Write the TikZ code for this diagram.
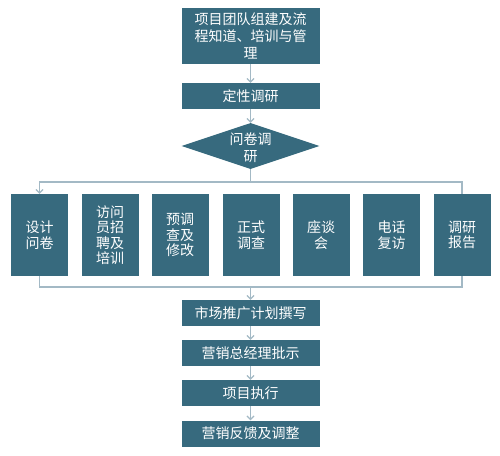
\documentclass[tikz,border=0pt]{standalone}
\usepackage{fontspec}
\setmainfont{Noto Sans CJK SC}
\usetikzlibrary{arrows.meta,shapes.geometric}
\definecolor{boxc}{HTML}{376A7E}
\definecolor{linec}{HTML}{A3B9C5}
\begin{document}
\begin{tikzpicture}[x=1pt,y=-1pt,
  box/.style={draw=none,fill=boxc,text=white,inner sep=0pt,align=center,
    font=\fontsize{14}{17}\selectfont},
  wide/.style={box,minimum width=138pt,minimum height=26pt},
  tall/.style={box,minimum width=57pt,minimum height=82pt,font=\fontsize{14}{15.5}\selectfont},
  conn/.style={draw=linec,line width=1.2pt},
  arr/.style={conn,-{Straight Barb[length=3.5pt,width=7pt]}}]
\useasboundingbox (0,0) rectangle (500,455);
\node[wide,minimum height=56pt] (top) at (250.5,36) {项目团队组建及流\\程知道、培训与管\\理};
\node[wide] (qual) at (250.5,96) {定性调研};
\node[diamond,fill=boxc,minimum width=138pt,minimum height=46pt,inner sep=0pt] (dia) at (250.5,146) {};
\node[text=white,align=center,font=\fontsize{14}{17}\selectfont] (diat) at (250.5,147.5) {问卷调\\研};
\node[tall] (r1) at (39.5,235) {设计\\问卷};
\node[tall] (r2) at (110,235) {访问\\员招\\聘及\\培训};
\node[tall] (r3) at (180,235) {预调\\查及\\修改};
\node[tall] (r4) at (251,235) {正式\\调查};
\node[tall] (r5) at (321,235) {座谈\\会};
\node[tall] (r6) at (391.5,235) {电话\\复访};
\node[tall] (r7) at (462,235) {调研\\报告};
\node[wide] (m1) at (250.5,313) {市场推广计划撰写};
\node[wide] (m2) at (250.5,353) {营销总经理批示};
\node[wide] (m3) at (250.5,393) {项目执行};
\node[wide] (m4) at (250.5,433.5) {营销反馈及调整};
\coordinate (busT) at (250.5,182);
\coordinate (busB) at (250.5,287);
\draw[arr] (top) -- (qual);
\draw[arr] (qual) -- (dia);
\draw[conn] (dia) -- (busT);
\draw[arr] (busT) -| (r1);
\draw[conn] (busT) -| (r7);
\draw[conn] (r1) |- (busB);
\draw[conn] (r7) |- (busB);
\draw[arr] (busB) -- (m1);
\draw[arr] (m1) -- (m2);
\draw[arr] (m2) -- (m3);
\draw[arr] (m3) -- (m4);
\end{tikzpicture}
\end{document}
